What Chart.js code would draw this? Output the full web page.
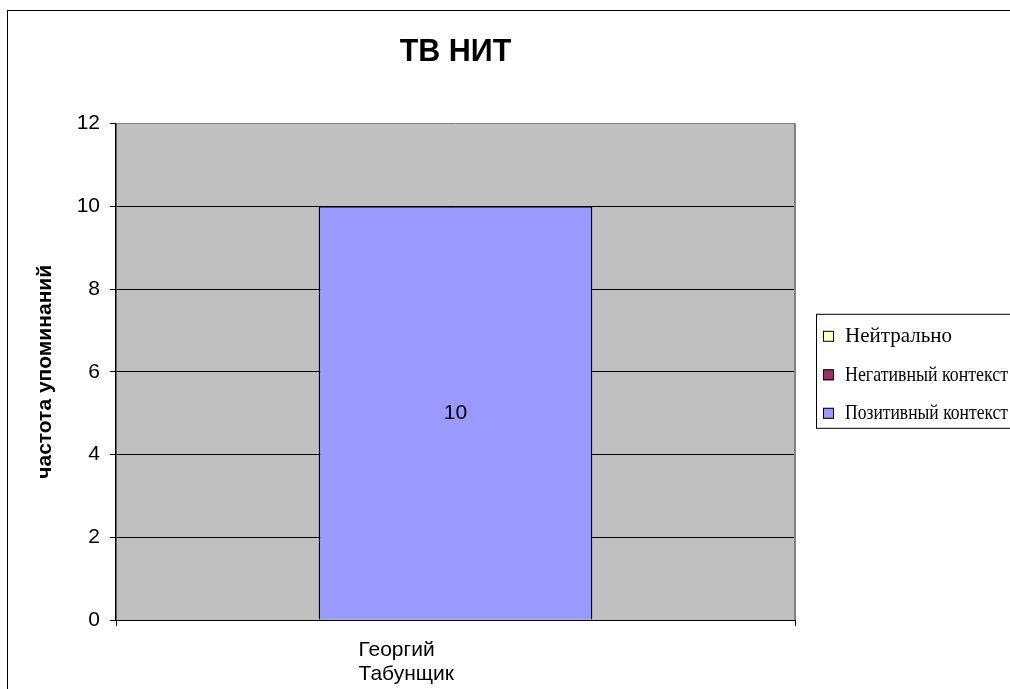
<!DOCTYPE html>
<html>
<head>
<meta charset="utf-8">
<script src="https://cdn.jsdelivr.net/npm/chart.js@4/dist/chart.umd.min.js"></script>
<style>
html, body { margin: 0; padding: 0; background: #fff; }
#wrap { width: 1010px; height: 689px; }
</style>
</head>
<body>
<div id="wrap"><canvas id="myChart" width="1010" height="689"></canvas></div>
<script>
// data
const categories = [['Георгий', 'Табунщик']];
const series_names = ['Нейтрально', 'Негативный контекст', 'Позитивный контекст'];
const neutral_values = [0];
const negative_values = [0];
const positive_values = [10];
const series_colors = ['#FFFFCC', '#993366', '#9999FF'];
const y_ticks = [0, 2, 4, 6, 8, 10, 12];

const ctx = document.getElementById('myChart').getContext('2d');

// gray plot area + outer frame
const plotBackground = {
    id: 'plotBackground',
    beforeDraw(chart) {
        const c = chart.ctx;
        const a = chart.chartArea;
        c.save();
        c.fillStyle = '#ffffff';
        c.fillRect(0, 0, chart.width, chart.height);
        c.strokeStyle = '#000';
        c.lineWidth = 1;
        c.strokeRect(7.5, 10.5, chart.width + 20, chart.height + 20);
        c.fillStyle = '#C0C0C0';
        c.fillRect(a.left, a.top, a.right - a.left, a.bottom - a.top);
        c.restore();
    },
    beforeDatasetsDraw(chart) {
        const c = chart.ctx;
        const a = chart.chartArea;
        c.save();
        c.strokeStyle = '#808080';
        c.lineWidth = 2;
        c.beginPath();
        c.moveTo(a.right, a.top);
        c.lineTo(a.right, a.bottom);
        c.stroke();
        c.restore();
    }
};

// value in the middle of each bar
const barValues = {
    id: 'barValues',
    afterDatasetsDraw(chart) {
        const c = chart.ctx;
        c.save();
        c.font = '21px Arial, "Liberation Sans"';
        c.fillStyle = '#000';
        c.textAlign = 'center';
        c.textBaseline = 'middle';
        chart.data.datasets.forEach((ds, i) => {
            chart.getDatasetMeta(i).data.forEach((bar, j) => {
                if (!ds.data[j]) return;
                c.fillText(ds.data[j], bar.x, (bar.y + bar.base) / 2);
            });
        });
        c.restore();
    }
};

// framed legend on the right, like the excel one
const boxLegend = {
    id: 'boxLegend',
    afterDraw(chart) {
        const c = chart.ctx;
        const a = chart.chartArea;
        const mid = (a.top + a.bottom) / 2;
        const left = a.right + 21;
        c.save();
        c.strokeStyle = '#000';
        c.lineWidth = 1;
        c.strokeRect(left + 0.5, mid - 57.5, chart.width, 114);
        c.font = '21px "Liberation Serif", "Times New Roman", serif';
        c.textBaseline = 'middle';
        c.textAlign = 'left';
        chart.data.datasets.forEach((ds, i) => {
            const y = mid - 36 + i * 38.5;
            c.fillStyle = ds.backgroundColor;
            c.fillRect(left + 7, y - 5, 11, 11);
            c.strokeStyle = '#000';
            c.strokeRect(left + 7.5, y - 4.5, 10, 10);
            c.fillStyle = '#000';
            // excel squeezes the long names so they end at the frame edge
            c.fillText(ds.label, left + 29, y + 1, chart.width - 2 - (left + 29));
        });
        c.restore();
    }
};

new Chart(ctx, {
    type: 'bar',
    data: {
        labels: categories,
        datasets: [{
            label: series_names[0],
            data: neutral_values,
            backgroundColor: series_colors[0],
            borderColor: '#000',
            borderWidth: 1.5
        }, {
            label: series_names[1],
            data: negative_values,
            backgroundColor: series_colors[1],
            borderColor: '#000',
            borderWidth: 1.5
        }, {
            label: series_names[2],
            data: positive_values,
            backgroundColor: series_colors[2],
            borderColor: '#000',
            borderWidth: 1.5
        }]
    },
    options: {
        responsive: false,
        animation: false,
        events: [],
        barPercentage: 0.403,
        categoryPercentage: 1,
        layout: {
            padding: { left: 8, top: 10, right: 215, bottom: 0 }
        },
        plugins: {
            legend: { display: false },
            tooltip: { enabled: false },
            title: {
                display: true,
                text: 'ТВ НИТ',
                fullSize: false,
                color: '#000',
                font: { family: 'Arial, "Liberation Sans"', size: 30.5, weight: 'bold' },
                padding: { top: 24, bottom: 53 }
            }
        },
        scales: {
            x: {
                stacked: true,
                offset: true,
                afterFit(scale) { scale.height = 69; },
                grid: {
                    display: true,
                    drawOnChartArea: false,
                    drawTicks: true,
                    tickLength: 6,
                    offset: true,
                    color: '#000'
                },
                border: { display: true, color: '#000', width: 1 },
                ticks: {
                    color: '#000',
                    font: { family: 'Arial, "Liberation Sans"', size: 21, lineHeight: 1.15 },
                    align: 'start',
                    labelOffset: -97,
                    padding: 12,
                    maxRotation: 0
                }
            },
            y: {
                stacked: true,
                min: y_ticks[0],
                max: y_ticks[y_ticks.length - 1],
                afterFit(scale) { scale.width = 108; },
                grid: {
                    color: (c) => (c.tick && c.tick.value === y_ticks[y_ticks.length - 1]) ? '#808080' : '#000',
                    tickColor: '#000',
                    tickLength: 6,
                    lineWidth: 1
                },
                border: { display: true, color: '#000', width: 1.5 },
                ticks: {
                    stepSize: y_ticks[1] - y_ticks[0],
                    color: '#000',
                    font: { family: 'Arial, "Liberation Sans"', size: 21 },
                    padding: 10
                },
                title: {
                    display: true,
                    text: 'частота упоминаний',
                    color: '#000',
                    font: { family: 'Arial, "Liberation Sans"', size: 21, weight: 'bold' },
                    padding: { top: 25, bottom: 0 }
                }
            }
        }
    },
    plugins: [plotBackground, barValues, boxLegend]
});
</script>
</body>
</html>
